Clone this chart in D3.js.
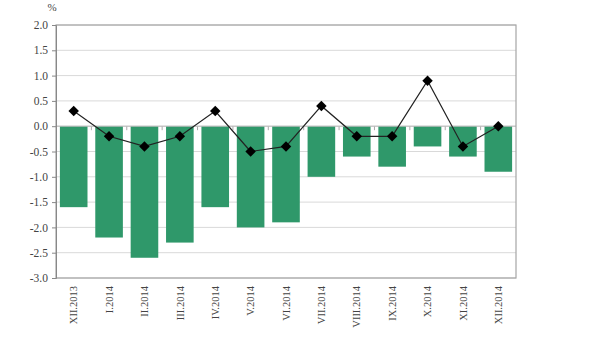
<!DOCTYPE html>
<html><head><meta charset="utf-8">
<script src="https://cdn.jsdelivr.net/npm/d3@7"></script>
<style>body{margin:0;background:#fff}svg{display:block}svg text{font-family:"Liberation Serif","Times New Roman",serif}</style>
</head><body>
<svg id="c" width="600" height="338"></svg>
<script>
const categories = ["XII.2013","I.2014","II.2014","III.2014","IV.2014","V.2014","VI.2014","VII.2014","VIII.2014","IX.2014","X.2014","XI.2014","XII.2014"];
const barValues = [-1.6,-2.2,-2.6,-2.3,-1.6,-2.0,-1.9,-1.0,-0.6,-0.8,-0.4,-0.6,-0.9];
const lineValues = [0.3,-0.2,-0.4,-0.2,0.3,-0.5,-0.4,0.4,-0.2,-0.2,0.9,-0.4,0.0];
const yTicks = [2.0,1.5,1.0,0.5,0.0,-0.5,-1.0,-1.5,-2.0,-2.5,-3.0];

const svg = d3.select("#c");
const L = 56, R = 516, T = 25, B = 278;
const x = d3.scaleBand().domain(categories).range([L, R]).paddingInner(0.22).paddingOuter(0.11);
const y = d3.scaleLinear().domain([-3, 2]).range([B, T]);
const font = "'Liberation Serif','Times New Roman',serif";

// gridlines
svg.append("g").selectAll("line").data(yTicks).join("line")
  .attr("x1", L).attr("x2", R).attr("y1", d => y(d)).attr("y2", d => y(d))
  .attr("stroke", "#d9d9d9").attr("stroke-width", 1);

// bars
svg.append("g").selectAll("rect").data(barValues).join("rect")
  .attr("x", (d, i) => x(categories[i]))
  .attr("width", x.bandwidth())
  .attr("y", d => y(Math.max(0, d)))
  .attr("height", d => Math.abs(y(d) - y(0)))
  .attr("fill", "#2f986a");

// zero-line ticks between categories
const step = x.step();
svg.append("g").selectAll("line").data(d3.range(1, categories.length)).join("line")
  .attr("x1", i => x(categories[i]) - (step - x.bandwidth()) / 2)
  .attr("x2", i => x(categories[i]) - (step - x.bandwidth()) / 2)
  .attr("y1", y(0)).attr("y2", y(0) + 4)
  .attr("stroke", "#aaa");
svg.append("line").attr("x1", L).attr("x2", R).attr("y1", y(0)).attr("y2", y(0)).attr("stroke", "#bbb");

// frame
svg.append("rect").attr("x", L).attr("y", T).attr("width", R - L).attr("height", B - T)
  .attr("fill", "none").attr("stroke", "#a6a6a6").attr("stroke-width", 1.2);

// y axis
const yAxis = d3.axisLeft(y).tickValues(yTicks).tickFormat(d3.format(".1f")).tickSize(4).tickPadding(4);
const ga = svg.append("g").attr("transform", `translate(${L},0)`).call(yAxis);
ga.attr("font-family", null);
ga.select(".domain").attr("stroke", "#888");
ga.selectAll(".tick line").attr("stroke", "#888");
ga.selectAll("text").style("font-family", font).attr("font-size", 11.5).attr("fill", "#444")
  .text(d => d.toFixed(1));

// x labels
const gx = svg.append("g").attr("transform", `translate(0,${B})`)
  .call(d3.axisBottom(x).tickSize(0).tickPadding(0));
gx.attr("font-family", null);
gx.select(".domain").remove();
gx.selectAll("text")
  .style("font-family", font).attr("font-size", 10.5).attr("fill", "#444")
  .attr("text-anchor", "end").attr("dy", "0.35em")
  .attr("transform", "translate(0,8) rotate(-90)").attr("x", 0).attr("y", 0);

// line series
const cx = (d, i) => x(categories[i]) + x.bandwidth() / 2;
svg.append("path").datum(lineValues)
  .attr("d", d3.line().x(cx).y(d => y(d)))
  .attr("fill", "none").attr("stroke", "#222").attr("stroke-width", 1.2);
svg.append("g").selectAll("path").data(lineValues).join("path")
  .attr("transform", (d, i) => `translate(${cx(d, i)},${y(d)})`)
  .attr("d", d3.symbol().type(d3.symbolDiamond2).size(70))
  .attr("fill", "#000");

// percent label
svg.append("text").attr("x", 52).attr("y", 11).attr("text-anchor", "middle")
  .style("font-family", font).attr("font-size", 11).attr("fill", "#444").text("%");
</script>
</body></html>
